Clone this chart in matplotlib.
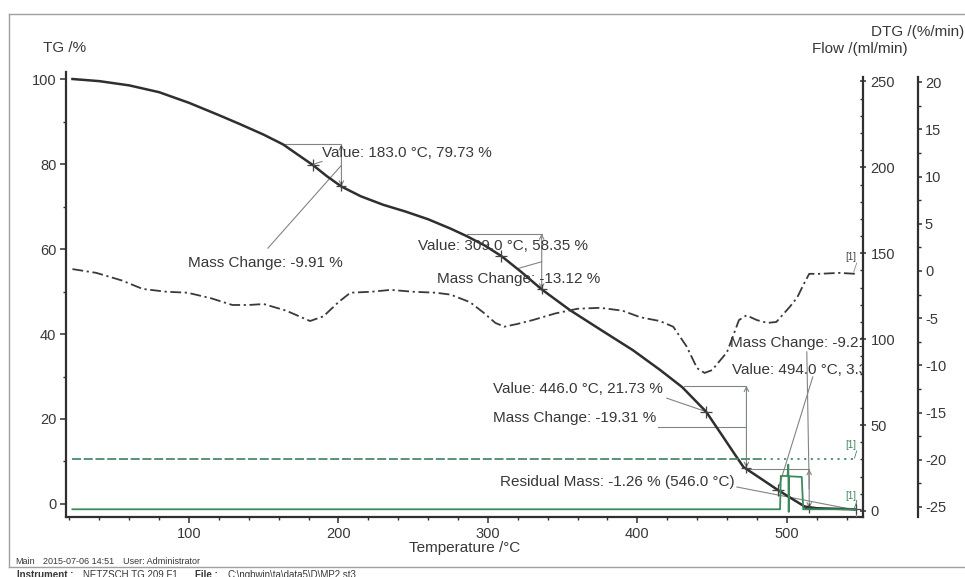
import numpy as np
import matplotlib
matplotlib.use('Agg')  # no display
import matplotlib.pyplot as plt
from matplotlib.ticker import MultipleLocator

plt.rcParams['font.family'] = ['Liberation Sans', 'DejaVu Sans']
plt.rcParams['axes.unicode_minus'] = False

# TG curve (temperature in C, mass in %)
temp_tg = [22, 40, 60, 80, 100, 120, 134, 150, 163, 172, 183, 192, 202, 215, 230,
           245, 260, 275, 286, 298, 309, 322, 336, 355, 375, 397, 415, 430, 446,
           457, 465, 471, 480, 494, 505, 512, 520, 530, 540, 546]
tg = [100.0, 99.5, 98.5, 96.9, 94.4, 91.5, 89.4, 86.9, 84.6, 82.4, 79.73, 77.2, 74.7,
      72.4, 70.4, 68.8, 67.0, 64.8, 63.0, 60.8, 58.35, 54.7, 50.5, 45.6, 41.1, 36.2,
      31.6, 27.5, 21.73, 16.0, 11.8, 8.7, 6.6, 3.3, 0.9, -0.6, -1.0, -1.1, -1.2, -1.26]

# DTG curve (%/min)
temp_dtg = [22, 30, 38, 55, 69, 85, 99, 115, 129, 140, 150, 165, 181, 190, 200, 208,
            222, 235, 250, 265, 275, 288, 297, 305, 311, 320, 330, 345, 360, 375, 390,
            402, 415, 424, 433, 440, 445, 450, 460, 468, 473, 480, 487, 493, 502, 507,
            511, 515, 522, 535, 546]
dtg = [0.2, 0.0, -0.2, -1.0, -1.9, -2.2, -2.3, -2.9, -3.6, -3.6, -3.5, -4.2, -5.3, -4.8,
       -3.3, -2.3, -2.2, -2.0, -2.2, -2.3, -2.5, -3.3, -4.4, -5.5, -5.9, -5.6, -5.2, -4.5,
       -4.0, -3.9, -4.2, -4.9, -5.3, -5.9, -8.0, -10.3, -10.8, -10.5, -8.6, -5.2, -4.7,
       -5.2, -5.5, -5.4, -3.8, -2.8, -1.5, -0.3, -0.3, -0.2, -0.3]

# purge and protective gas flow (ml/min)
temp_purge = [22, 485, 546]
flow_purge = [30.3, 30.3, 30.3]
temp_prot = [22, 495.5, 496, 500.5, 501, 501.3, 501.6, 510, 511, 546]
flow_prot = [1.0, 1.0, 20.4, 20.4, 27.0, -0.5, 20.2, 19.8, 1.0, 1.0]

# evaluation results
value_temp = [183.0, 309.0, 446.0, 494.0]
value_tg = [79.73, 58.35, 21.73, 3.31]
step_start = [163, 286, 431, 473]
step_end = [202, 336, 473, 515]
step_top = [84.64, 63.62, 27.8, 8.2]
step_change = [-9.91, -13.12, -19.31, -9.21]
residual_temp = 546.0
residual_mass = -1.26

W, H = 965, 577


def fx(x):
    return x / W


def fy(y):
    return 1 - y / H


fig = plt.figure(figsize=(9.65, 5.77), dpi=100)
ax = fig.add_axes([fx(66), fy(517), fx(863) - fx(66), fy(72) - fy(517)])
ax2 = ax.twinx()
ax3 = ax.twinx()

dark = '#2f2f2f'
txt = '#383838'
grey = '#808680'
green = '#3c8a5c'

ax.plot(temp_tg, tg, color=dark, lw=1.8, zorder=4)
ax3.plot(temp_dtg, dtg, color='#3a3a3a', lw=1.3, dashes=(6, 2, 1.2, 2))
ax2.plot(temp_purge[:2], flow_purge[:2], color='#4b8b6b', lw=1.3, dashes=(5, 1.5))
ax2.plot(temp_purge[1:], flow_purge[1:], color='#4b8b6b', lw=1.3, dashes=(1.2, 2.5))
ax2.plot(temp_prot, flow_prot, color=green, lw=1.3)

ax.set_xlim(17.7, 551)
ax.set_ylim(-3.06, 101.65)
ax2.set_ylim(-3.5, 255.5)
ax3.set_ylim(-26.06, 21.08)

for s in ['top', 'right']:
    ax.spines[s].set_visible(False)
for a in (ax2, ax3):
    for s in ['top', 'left', 'bottom']:
        a.spines[s].set_visible(False)
ax3.spines['right'].set_position(('axes', (918 - 66) / (863 - 66)))
ax2.spines['right'].set_bounds(-3.5, 252.6)
ax3.spines['right'].set_bounds(-26.06, 20.55)
for a in (ax, ax2, ax3):
    for s in a.spines.values():
        s.set_linewidth(1.6)
        s.set_color(dark)

ax.xaxis.set_major_locator(MultipleLocator(100))
ax.xaxis.set_minor_locator(MultipleLocator(20))
ax.yaxis.set_major_locator(MultipleLocator(20))
ax.yaxis.set_minor_locator(MultipleLocator(10))
ax2.yaxis.set_major_locator(MultipleLocator(50))
ax2.yaxis.set_minor_locator(MultipleLocator(10))
ax3.yaxis.set_major_locator(MultipleLocator(5))
ax3.yaxis.set_minor_locator(MultipleLocator(2.5))

ax.tick_params(which='major', direction='out', length=4, width=1.1, pad=3,
               labelsize=10.5, colors=dark, labelcolor=txt)
ax.tick_params(which='minor', direction='out', length=2.5, width=1, colors=dark)
ax2.tick_params(which='major', direction='inout', length=5, width=1.1, pad=3,
                labelsize=10.5, colors=dark, labelcolor=txt)
ax2.tick_params(which='minor', direction='in', length=2.5, width=1, colors=dark)
ax3.tick_params(which='major', direction='out', length=3, width=1.1, pad=2,
                labelsize=10.5, colors=dark, labelcolor=txt)
ax3.tick_params(which='minor', direction='out', length=2, width=1, colors=dark)

ax.set_xlabel('Temperature /°C', fontsize=11, color=txt, labelpad=0)
fig.text(fx(43), fy(48), 'TG /%', fontsize=11, color=txt, ha='left', va='center')
fig.text(fx(964), fy(32), 'DTG /(%/min)', fontsize=11, color=txt, ha='right', va='center')
fig.text(fx(908), fy(49), 'Flow /(ml/min)', fontsize=11, color=txt, ha='right', va='center')

# mass change steps
line_kw = dict(color=grey, lw=0.8, zorder=3)
for t0, t1, top, ch in zip(step_start, step_end, step_top, step_change):
    ax.plot([t0, t1], [top, top], **line_kw)
    ax.annotate('', xy=(t1, top + ch), xytext=(t1, top),
                arrowprops=dict(arrowstyle='<->', color=grey, lw=0.8,
                                shrinkA=0, shrinkB=0, mutation_scale=8), zorder=3)

ax.plot(value_temp, value_tg, '+', color='#444', ms=9, mew=0.9, zorder=5)
ax.plot(step_end, [t + c for t, c in zip(step_top, step_change)], '+', color='#444',
        ms=7, mew=0.9, zorder=5)
ax.plot([residual_temp], [residual_mass], '+', color='#444', ms=7, mew=0.9, zorder=5)

tkw = dict(fontsize=11, color=txt, ha='left', va='center', zorder=6)
ax.text(189, 82.6, 'Value: %.1f °C, %.2f %%' % (value_temp[0], value_tg[0]), **tkw)
ax.plot([189, 183], [80.6, 79.9], **line_kw)
ax.text(99.3, 56.7, 'Mass Change: %.2f %%' % step_change[0], **tkw)
ax.plot([152.8, 202], [60.2, 79.7], **line_kw)

ax.text(253.2, 60.7, 'Value: %.1f °C, %.2f %%' % (value_temp[1], value_tg[1]), **tkw)
ax.text(265.9, 52.9, 'Mass Change: %.2f %%' % step_change[1], **tkw)
ax.plot([320, 336], [55.4, 57.0], **line_kw)

ax.text(303.3, 27.1, 'Value: %.1f °C, %.2f %%' % (value_temp[2], value_tg[2]), **tkw)
ax.plot([419.7, 446], [24.9, 21.73], **line_kw)
ax.text(303.3, 20.2, 'Mass Change: %.2f %%' % step_change[2], **tkw)
ax.plot([413.7, 473], [18.1, 18.1], **line_kw)

ax.text(461.9, 37.9, 'Mass Change: %.2f %%' % step_change[3], clip_on=True, **tkw)
ax.plot([513.4, 515], [35.8, 3.6], **line_kw)
ax.text(463.2, 31.5, 'Value: %.1f °C, %.2f %%' % (value_temp[3], value_tg[3]),
        clip_on=True, **tkw)
ax.plot([517.4, 494], [29.9, 3.3], **line_kw)

ax.text(308, 5.2, 'Residual Mass: %.2f %% (%.1f °C)' % (residual_mass, residual_temp), **tkw)
ax.plot([466.6, 545.5], [4.0, -1.4], **line_kw)
ax.plot([residual_temp, residual_temp], [1.0, -3.0], **line_kw)

# curve tags
ax.text(546.8, 58.1, '[1]', fontsize=7, color='#444', ha='right', va='center')
ax.plot([546.8, 544.8], [56.7, 54.6], color='#888', lw=0.6)
ax.text(546.8, 13.9, '[1]', fontsize=7, color=green, ha='right', va='center')
ax.plot([546.8, 545.3], [12.5, 10.8], color=green, lw=0.6)
ax.text(546.8, 1.9, '[1]', fontsize=7, color=green, ha='right', va='center')
ax.plot([546.8, 545.3], [0.6, -0.9], color=green, lw=0.6)

# page frame and footer
frame = dict(color='#a0a0a0', lw=1.0, transform=fig.transFigure)
fig.add_artist(plt.Line2D([fx(9), fx(965)], [fy(14), fy(14)], **frame))
fig.add_artist(plt.Line2D([fx(9), fx(9)], [fy(14), fy(567)], **frame))
fig.add_artist(plt.Line2D([fx(9), fx(965)], [fy(567), fy(567)], **frame))

fig.text(fx(15), fy(562), 'Main', fontsize=6.5, color=txt, va='center')
fig.text(fx(43), fy(562), '2015-07-06 14:51', fontsize=6.5, color=txt, va='center')
fig.text(fx(123), fy(562), 'User: Administrator', fontsize=6.5, color=txt, va='center')
fig.text(fx(17), fy(575), 'Instrument :', fontsize=7, weight='bold', color=txt, va='center')
fig.text(fx(83), fy(575), 'NETZSCH TG 209 F1', fontsize=7, color=txt, va='center')
fig.text(fx(195), fy(575), 'File :', fontsize=7, weight='bold', color=txt, va='center')
fig.text(fx(227), fy(575), 'C:\\ngbwin\\ta\\data5\\D\\MP2.st3', fontsize=7, color=txt,
         va='center')

fig.savefig('out.png', dpi=100)
plt.close(fig)
